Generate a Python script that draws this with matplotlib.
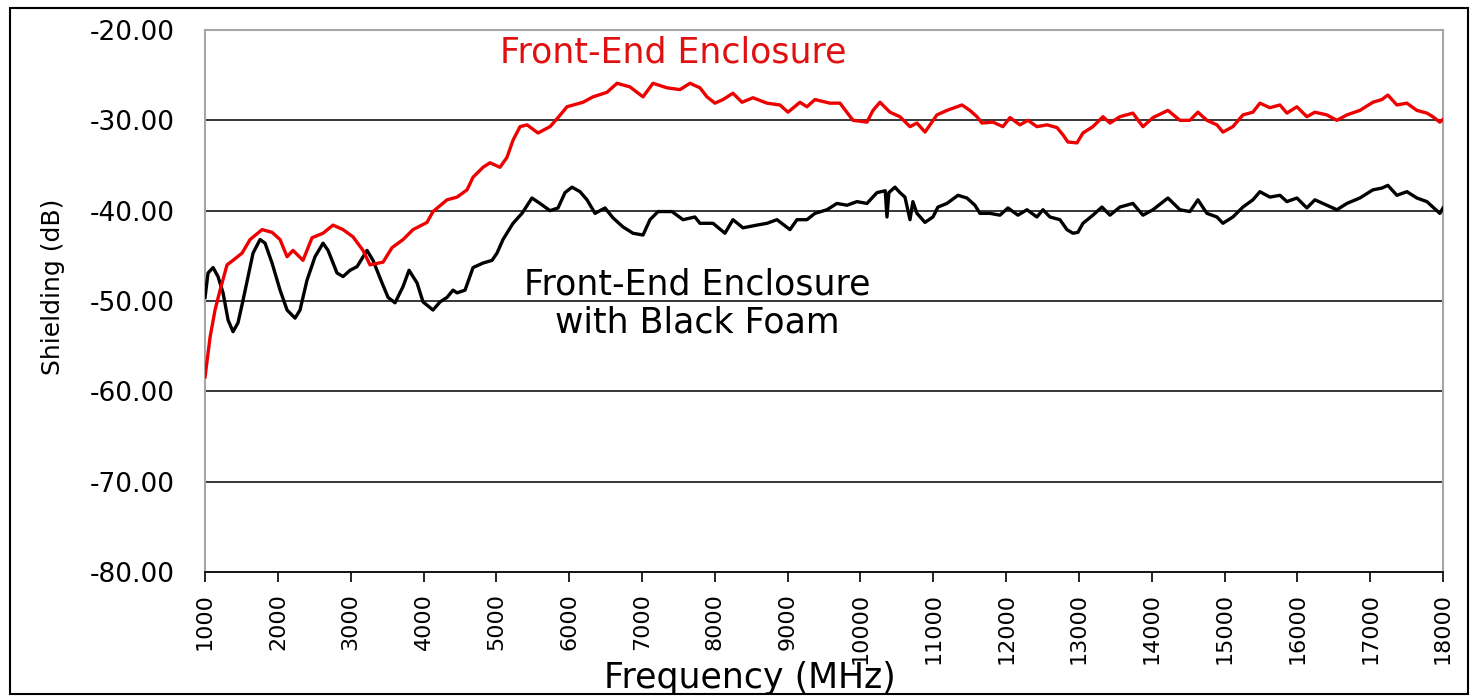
import matplotlib

matplotlib.use("Agg")

import matplotlib.pyplot as plt
from matplotlib.patches import Rectangle

# shielding of the bare enclosure
red_freq = [1000, 1069, 1137, 1206, 1302, 1384, 1508, 1618, 1783, 1920, 2030, 2126, 2208,
            2345, 2469, 2620, 2757, 2895, 3032, 3169, 3265, 3444, 3567, 3719, 3856, 4048,
            4130, 4323, 4460, 4597, 4680, 4817, 4913, 5050, 5146, 5229, 5325, 5421, 5572,
            5737, 5847, 5970, 6190, 6327, 6519, 6657, 6835, 7014, 7151, 7343, 7522, 7659,
            7796, 7892, 8002, 8112, 8249, 8373, 8524, 8716, 8895, 9005, 9169, 9265, 9375,
            9581, 9719, 9897, 10089, 10172, 10268, 10405, 10542, 10680, 10776, 10886, 11050,
            11188, 11394, 11503, 11600, 11668, 11819, 11956, 12053, 12190, 12300, 12423,
            12561, 12698, 12780, 12849, 12973, 13055, 13192, 13330, 13426, 13563, 13741,
            13879, 14016, 14222, 14387, 14524, 14634, 14757, 14895, 14977, 15114, 15252,
            15389, 15485, 15622, 15760, 15856, 15993, 16130, 16240, 16405, 16542, 16680,
            16858, 17036, 17160, 17242, 17366, 17503, 17641, 17778, 17860, 17956, 18000]
red_db = [-58.4, -54.0, -51.0, -48.8, -46.0, -45.5, -44.7, -43.2, -42.1, -42.4, -43.2, -45.1,
          -44.4, -45.5, -43.0, -42.5, -41.6, -42.1, -42.9, -44.4, -46.0, -45.7, -44.1, -43.2,
          -42.1, -41.3, -40.1, -38.8, -38.5, -37.7, -36.3, -35.2, -34.7, -35.2, -34.1, -32.2,
          -30.7, -30.5, -31.4, -30.7, -29.7, -28.5, -28.0, -27.4, -26.9, -25.9, -26.3, -27.4,
          -25.9, -26.4, -26.6, -25.9, -26.4, -27.4, -28.1, -27.7, -27.0, -28.0, -27.5, -28.1,
          -28.3, -29.1, -28.0, -28.5, -27.7, -28.1, -28.1, -30.0, -30.2, -28.9, -28.0, -29.1,
          -29.6, -30.7, -30.3, -31.3, -29.4, -28.9, -28.3, -28.9, -29.6, -30.3, -30.2, -30.7,
          -29.7, -30.5, -30.0, -30.7, -30.5, -30.8, -31.6, -32.4, -32.5, -31.4, -30.7, -29.6,
          -30.3, -29.6, -29.2, -30.7, -29.7, -28.9, -30.0, -30.0, -29.1, -30.0, -30.5, -31.3,
          -30.7, -29.4, -29.1, -28.1, -28.6, -28.3, -29.2, -28.5, -29.6, -29.1, -29.4, -30.0,
          -29.4, -28.9, -28.0, -27.7, -27.2, -28.3, -28.1, -28.9, -29.2, -29.6, -30.2, -29.9]

# shielding with black foam inside
blk_freq = [1000, 1041, 1110, 1178, 1247, 1316, 1384, 1453, 1522, 1590, 1659, 1755, 1824,
            1920, 2030, 2126, 2236, 2304, 2400, 2510, 2620, 2689, 2812, 2895, 2991, 3087,
            3224, 3306, 3430, 3513, 3609, 3719, 3801, 3911, 3993, 4130, 4227, 4323, 4405,
            4460, 4570, 4680, 4817, 4941, 5009, 5091, 5229, 5352, 5489, 5599, 5737, 5847,
            5943, 6039, 6149, 6245, 6355, 6492, 6602, 6739, 6876, 7014, 7110, 7220, 7412,
            7563, 7727, 7796, 7975, 8139, 8249, 8386, 8578, 8716, 8853, 9032, 9128, 9265,
            9375, 9540, 9677, 9815, 9952, 10089, 10227, 10340, 10364, 10390, 10474, 10542,
            10611, 10680, 10720, 10776, 10886, 10995, 11064, 11188, 11339, 11462, 11572,
            11641, 11778, 11915, 12025, 12162, 12286, 12423, 12506, 12602, 12739, 12835,
            12918, 12986, 13055, 13192, 13316, 13426, 13563, 13741, 13879, 14016, 14222,
            14387, 14524, 14634, 14757, 14895, 14977, 15114, 15252, 15389, 15485, 15622,
            15760, 15856, 15993, 16130, 16240, 16405, 16542, 16680, 16858, 17036, 17160,
            17242, 17366, 17503, 17641, 17778, 17860, 17956, 18000]
blk_db = [-49.6, -46.9, -46.3, -47.3, -49.1, -52.1, -53.4, -52.4, -49.9, -47.3, -44.7, -43.2,
          -43.6, -45.8, -48.8, -51.0, -51.9, -51.0, -47.7, -45.1, -43.6, -44.4, -46.9, -47.3,
          -46.6, -46.2, -44.4, -45.5, -48.0, -49.6, -50.2, -48.4, -46.6, -48.0, -50.1, -51.0,
          -50.1, -49.6, -48.8, -49.1, -48.8, -46.3, -45.8, -45.5, -44.7, -43.2, -41.4, -40.3,
          -38.6, -39.2, -40.0, -39.7, -38.0, -37.4, -37.9, -38.8, -40.3, -39.7, -40.8, -41.8,
          -42.5, -42.7, -41.0, -40.1, -40.1, -41.0, -40.7, -41.4, -41.4, -42.5, -41.0, -41.9,
          -41.6, -41.4, -41.0, -42.1, -41.0, -41.0, -40.3, -39.9, -39.2, -39.4, -39.0, -39.2,
          -38.0, -37.8, -40.7, -38.0, -37.4, -38.0, -38.5, -41.0, -39.0, -40.3, -41.3, -40.7,
          -39.6, -39.2, -38.3, -38.6, -39.4, -40.3, -40.3, -40.5, -39.7, -40.5, -39.9, -40.7,
          -39.9, -40.7, -41.0, -42.1, -42.5, -42.4, -41.4, -40.5, -39.6, -40.5, -39.6, -39.2,
          -40.5, -39.9, -38.6, -39.9, -40.1, -38.8, -40.3, -40.7, -41.4, -40.7, -39.6, -38.8,
          -37.9, -38.5, -38.3, -39.0, -38.6, -39.7, -38.8, -39.4, -39.9, -39.2, -38.6, -37.7,
          -37.5, -37.2, -38.3, -37.9, -38.6, -39.0, -39.6, -40.3, -39.7]

x_ticks = list(range(1000, 18001, 1000))
y_ticks = [-80, -70, -60, -50, -40, -30, -20]

fig = plt.figure(figsize=(14.71, 6.96), dpi=100)
ax = fig.add_axes([0.1394, 0.1782, 0.8416, 0.7787])

for y in y_ticks[1:-1]:
    ax.axhline(y, color="black", linewidth=1.1, zorder=1)

ax.plot(blk_freq, blk_db, color="black", linewidth=2.4, zorder=3)
ax.plot(red_freq, red_db, color="#ee0000", linewidth=2.4, zorder=4)

ax.set_xlim(1000, 18000)
ax.set_ylim(-80, -20)
ax.set_xticks(x_ticks)
ax.set_xticklabels([str(v) for v in x_ticks], rotation=90, fontsize=16)
ax.set_yticks(y_ticks)
ax.set_yticklabels([f"{v:.2f}" for v in y_ticks], fontsize=19)
ax.tick_params(axis="x", direction="out", length=7, width=1.2, color="black", pad=8)
ax.tick_params(axis="y", length=0, pad=22)

for side in ("left", "top", "right"):
    ax.spines[side].set_color("#a6a6a6")
    ax.spines[side].set_linewidth(1.5)
ax.spines["bottom"].set_color("black")
ax.spines["bottom"].set_linewidth(1.3)

ax.set_xlabel("Frequency (MHz)", fontsize=25)
ax.xaxis.set_label_coords(0.44, -0.165)
ax.set_ylabel("Shielding (dB)", fontsize=18)
ax.yaxis.set_label_coords(-0.113, 0.526)

ax.text(7426, -22.5, "Front-End Enclosure", color="#e01010", fontsize=25,
        ha="center", va="center")
ax.text(7755, -50.3, "Front-End Enclosure\nwith Black Foam", color="black", fontsize=25,
        ha="center", va="center", linespacing=1.15)

# outer frame around the chart area
fig.patches.append(Rectangle((0.007, 0.003), 0.991, 0.986, transform=fig.transFigure,
                             fill=False, edgecolor="black", linewidth=1.5))

fig.savefig("out.png", dpi=100)
